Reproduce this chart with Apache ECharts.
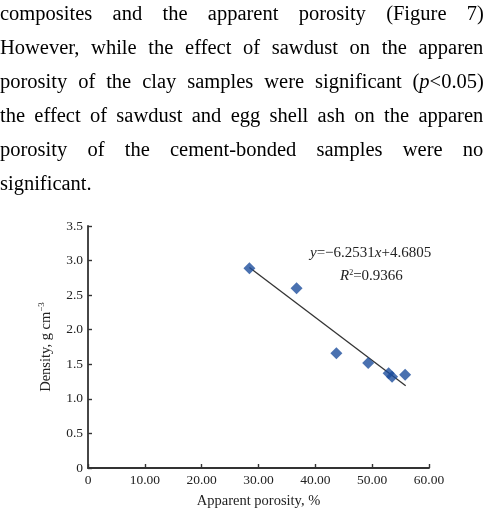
<!DOCTYPE html>
<html>
<head>
<meta charset="utf-8">
<script src="https://cdn.jsdelivr.net/npm/echarts@6/dist/echarts.min.js"></script>
<style>
  html, body { margin: 0; padding: 0; background: #fff; overflow: hidden; }
  #page { position: relative; width: 483px; height: 519px; overflow: hidden; }
  #text { position: absolute; left: 0; top: -4px; width: 489px;
          font-family: "Liberation Serif", "Times New Roman", serif; font-size: 20.5px;
          line-height: 34px; color: #000; }
  #text .ln { text-align: justify; text-align-last: justify; }
  #text .ln.last { text-align-last: left; }
  #chart { position: absolute; left: 0; top: 0; width: 483px; height: 519px; }
</style>
</head>
<body>
<div id="page">
  <div id="chart"></div>
  <div id="text">
    <div class="ln">composites and the apparent porosity (Figure 7).</div>
    <div class="ln">However, while the effect of sawdust on the apparent</div>
    <div class="ln">porosity of the clay samples were significant (<i>p</i>&lt;0.05),</div>
    <div class="ln">the effect of sawdust and egg shell ash on the apparent</div>
    <div class="ln">porosity of the cement-bonded samples were not</div>
    <div class="ln last">significant.</div>
  </div>
</div>
<script>
// 数据
var porosity = [28.4, 36.7, 43.7, 49.3, 52.9, 53.5, 55.8];
var density = [2.89, 2.60, 1.66, 1.52, 1.37, 1.32, 1.35];
// 趋势线端点 (y=-6.2531x+4.6805)
var trendX = [28.4, 55.9];
var trendY = [2.90, 1.19];
var xTickLabels = ['0', '10.00', '20.00', '30.00', '40.00', '50.00', '60.00'];
var yTickLabels = ['0', '0.5', '1.0', '1.5', '2.0', '2.5', '3.0', '3.5'];

var serif = '"Liberation Serif", "Times New Roman", serif';
var chart = echarts.init(document.getElementById('chart'));

var points = [];
for (var i = 0; i < porosity.length; i++) {
    points.push([porosity[i], density[i]]);
}
var trend = [];
for (var j = 0; j < trendX.length; j++) {
    trend.push([trendX[j], trendY[j]]);
}

var option = {
    animation: false,
    grid: { left: 88, right: 54, top: 226, bottom: 51 },
    xAxis: {
        type: 'value', min: 0, max: 60, interval: 10,
        name: 'Apparent porosity, %', nameLocation: 'middle', nameGap: 26,
        nameTextStyle: { fontFamily: serif, fontSize: 14.5, color: '#222' },
        axisLine: { show: true, lineStyle: { color: '#333', width: 1.8 } },
        axisTick: { show: true, inside: true, length: 4, lineStyle: { color: '#333', width: 1.4 } },
        axisLabel: {
            fontFamily: serif, fontSize: 13.5, color: '#222', margin: 5,
            formatter: function (v) { return xTickLabels[Math.round(v / 10)]; }
        },
        splitLine: { show: false }
    },
    yAxis: {
        type: 'value', min: 0, max: 3.5, interval: 0.5,
        name: 'Density, g cm{sup|−3}', nameLocation: 'middle', nameGap: 33, nameRotate: 90,
        nameTextStyle: {
            fontFamily: serif, fontSize: 14.5, color: '#222',
            rich: { sup: { fontFamily: serif, fontSize: 9, color: '#222', verticalAlign: 'top', padding: [0, 0, 9, 0] } }
        },
        axisLine: { show: true, lineStyle: { color: '#333', width: 1.8 } },
        axisTick: { show: true, inside: true, length: 4, lineStyle: { color: '#333', width: 1.4 } },
        axisLabel: {
            fontFamily: serif, fontSize: 13.5, color: '#222', margin: 5,
            formatter: function (v) { return yTickLabels[Math.round(v * 2)]; }
        },
        splitLine: { show: false }
    },
    graphic: [{
        type: 'text', left: 310, top: 246,
        style: {
            text: '{i|y}=−6.2531{i|x}+4.6805',
            fontFamily: serif, fontSize: 15, fill: '#222',
            rich: { i: { fontFamily: serif, fontSize: 15, fontStyle: 'italic', color: '#222' } }
        }
    }, {
        type: 'text', left: 340, top: 269,
        style: {
            text: '{i|R}{s|2}=0.9366',
            fontFamily: serif, fontSize: 15, fill: '#222',
            rich: {
                i: { fontFamily: serif, fontSize: 15, fontStyle: 'italic', color: '#222' },
                s: { fontFamily: serif, fontSize: 8, color: '#222', verticalAlign: 'top', padding: [0, 0, 7, 0] }
            }
        }
    }],
    series: [{
        type: 'line', data: trend, symbol: 'none', z: 1,
        lineStyle: { color: '#333', width: 1.3 }
    }, {
        type: 'scatter', data: points, symbol: 'diamond', symbolSize: 12, z: 2,
        itemStyle: { color: '#1d4d9c' }
    }]
};
chart.setOption(option);
</script>
</body>
</html>
